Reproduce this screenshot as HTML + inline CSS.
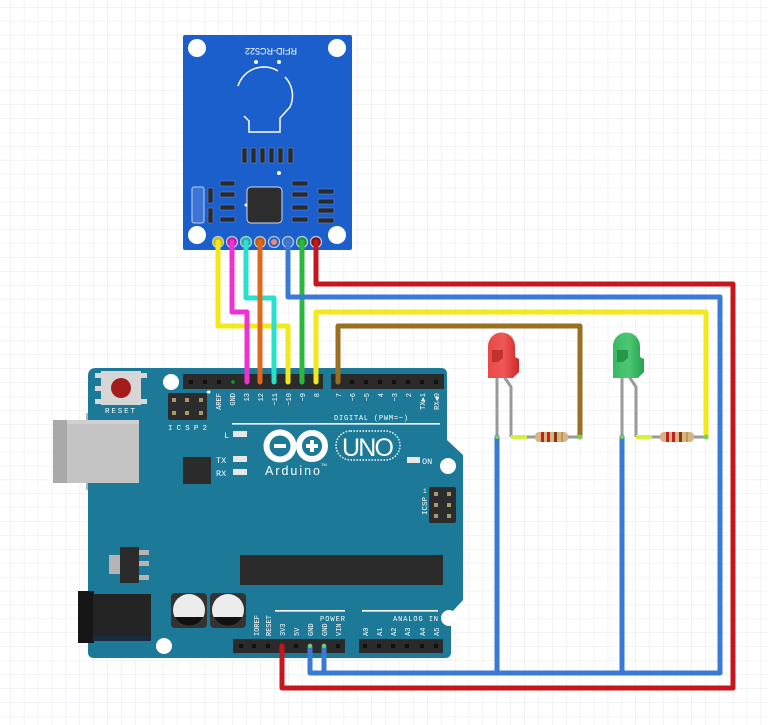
<!DOCTYPE html>
<html><head><meta charset="utf-8"><style>
html,body{margin:0;padding:0;background:#fff;}
svg{display:block;}
.t{font-family:"Liberation Mono",monospace;fill:#fff;}
</style></head><body>
<svg width="768" height="725" viewBox="0 0 768 725" xmlns="http://www.w3.org/2000/svg">
<defs>
<pattern id="grid" x="10" y="7" width="13.9" height="13.9" patternUnits="userSpaceOnUse">
<path d="M0,0 L0,13.9 M0,0 L13.9,0" stroke="#e6e7ee" stroke-width="1" fill="none"/>
</pattern>
<clipPath id="c1"><circle cx="189" cy="610" r="16"/></clipPath>
<clipPath id="c2"><circle cx="228" cy="610" r="16"/></clipPath>
<linearGradient id="ledR" x1="0" x2="1" y1="0" y2="0"><stop offset="0" stop-color="#e84848"/><stop offset="0.5" stop-color="#f05858"/><stop offset="1" stop-color="#d02828"/></linearGradient>
<linearGradient id="ledG" x1="0" x2="1" y1="0" y2="0"><stop offset="0" stop-color="#38b860"/><stop offset="0.5" stop-color="#4cc874"/><stop offset="1" stop-color="#28a050"/></linearGradient>
</defs>
<rect width="768" height="725" fill="#fff"/>
<rect width="768" height="725" fill="url(#grid)"/>

<!-- ============ ARDUINO ============ -->
<!-- USB tab + body -->
<rect x="86" y="413" width="11" height="77" fill="#b4b4b4"/>
<path d="M96,368 L441,368 Q447,368 447,374 L447,440 L463,455 L463,600 L451,613 L451,652 Q451,658 445,658 L94,658 Q88,658 88,652 L88,376 Q88,368 96,368 Z" fill="#1c7a98"/>
<rect x="53" y="420" width="86" height="63" fill="#c4c4c4"/>
<rect x="53" y="420" width="14" height="63" fill="#a9a9a9"/>
<rect x="67" y="420" width="72" height="4" fill="#d0d0d0"/>

<!-- reset button -->
<rect x="95" y="373" width="7" height="5" fill="#d8d8d8"/>
<rect x="95" y="386" width="7" height="5" fill="#d8d8d8"/>
<rect x="95" y="399" width="7" height="5" fill="#d8d8d8"/>
<rect x="140" y="373" width="7" height="5" fill="#d8d8d8"/>
<rect x="140" y="399" width="7" height="5" fill="#d8d8d8"/>
<rect x="101" y="371" width="40" height="34" fill="#d6d6d6"/>
<circle cx="121" cy="388" r="10" fill="#a41c1c"/>
<text class="t" x="105" y="413" font-size="7.5" textLength="30">RESET</text>
<circle cx="171" cy="382" r="8" fill="#fff"/>

<!-- ICSP2 -->
<rect x="168" y="393" width="39" height="27" rx="2" fill="#2c2c2c"/>
<g fill="#a89a70"><rect x="172" y="398" width="4" height="4"/><rect x="185" y="398" width="4" height="4"/><rect x="199" y="398" width="4" height="4"/><rect x="172" y="411" width="4" height="4"/><rect x="185" y="411" width="4" height="4"/><rect x="199" y="411" width="4" height="4"/></g>
<circle cx="209" cy="392" r="1.5" fill="#fff"/>
<text class="t" x="168" y="430" font-size="7.5" textLength="39">ICSP2</text>

<!-- top headers -->
<rect x="183" y="374" width="140" height="15" fill="#2b2b2b"/>
<rect x="331" y="374" width="113" height="15" fill="#2b2b2b"/>
<g fill="#111">
<rect x="189" y="380" width="4" height="4"/><rect x="203" y="380" width="4" height="4"/><rect x="217" y="380" width="4" height="4"/><rect x="231" y="380" width="4" height="4"/><rect x="245" y="380" width="4" height="4"/><rect x="258" y="380" width="4" height="4"/><rect x="272" y="380" width="4" height="4"/><rect x="286" y="380" width="4" height="4"/><rect x="300" y="380" width="4" height="4"/><rect x="314" y="380" width="4" height="4"/>
<rect x="336" y="380" width="4" height="4"/><rect x="350" y="380" width="4" height="4"/><rect x="364" y="380" width="4" height="4"/><rect x="378" y="380" width="4" height="4"/><rect x="392" y="380" width="4" height="4"/><rect x="406" y="380" width="4" height="4"/><rect x="420" y="380" width="4" height="4"/><rect x="434" y="380" width="4" height="4"/>
</g>
<circle cx="233" cy="382" r="2" fill="#1a8a2a"/>
<circle cx="208" cy="392" r="1.3" fill="#fff"/>

<!-- top pin labels -->
<g class="t" font-size="7" text-anchor="end">
<text transform="translate(221,393) rotate(-90)">AREF</text>
<text transform="translate(235,393) rotate(-90)">GND</text>
<text transform="translate(249,393) rotate(-90)">13</text>
<text transform="translate(263,393) rotate(-90)">12</text>
<text transform="translate(277,393) rotate(-90)">~11</text>
<text transform="translate(291,393) rotate(-90)">~10</text>
<text transform="translate(305,393) rotate(-90)">~9</text>
<text transform="translate(319,393) rotate(-90)">8</text>
<text transform="translate(341,393) rotate(-90)">7</text>
<text transform="translate(355,393) rotate(-90)">~6</text>
<text transform="translate(369,393) rotate(-90)">~5</text>
<text transform="translate(383,393) rotate(-90)">4</text>
<text transform="translate(397,393) rotate(-90)">~3</text>
<text transform="translate(411,393) rotate(-90)">2</text>
<text transform="translate(425,393) rotate(-90)">TX▶1</text>
<text transform="translate(439,393) rotate(-90)">RX◀0</text>
</g>
<text class="t" x="334" y="420" font-size="7" textLength="74">DIGITAL (PWM=~)</text>
<rect x="232" y="423" width="208" height="1.6" fill="#fff"/>

<!-- LEDs L TX RX -->
<text class="t" x="224" y="438" font-size="8.5">L</text>
<rect x="233" y="431" width="14" height="6" fill="#e6e6e6"/>
<text class="t" x="216" y="463" font-size="8.5">TX</text>
<rect x="233" y="456" width="14" height="6" fill="#e6e6e6"/>
<text class="t" x="216" y="476" font-size="8.5">RX</text>
<rect x="233" y="469" width="14" height="6" fill="#e6e6e6"/>
<rect x="183" y="457" width="28" height="27" fill="#2b2b2b"/>

<!-- logo -->
<circle cx="280" cy="446" r="13.5" fill="none" stroke="#fff" stroke-width="6"/>
<circle cx="312" cy="446" r="13" fill="none" stroke="#fff" stroke-width="6"/>
<rect x="274" y="444" width="12" height="4" fill="#fff"/>
<rect x="306" y="444" width="12" height="4" fill="#fff"/>
<rect x="310" y="440" width="4" height="12" fill="#fff"/>
<text x="265" y="475" font-family="Liberation Sans, sans-serif" font-size="12.5" fill="#fff" textLength="55">Arduino</text>
<text x="321" y="466" font-family="Liberation Sans, sans-serif" font-size="4" fill="#fff">TM</text>
<rect x="336" y="431" width="64" height="29" rx="14.5" fill="none" stroke="#fff" stroke-width="1.5" stroke-dasharray="1.5,1.5"/>
<text x="342" y="456" font-family="Liberation Sans, sans-serif" font-size="25" fill="#fff" textLength="52">UNO</text>

<rect x="407" y="457" width="13" height="6" fill="#e6e6e6"/>
<text class="t" x="422" y="464" font-size="8.5">ON</text>
<circle cx="448" cy="466" r="8" fill="#fff"/>

<!-- ICSP -->
<rect x="429" y="487" width="27" height="36" rx="2" fill="#2c2c2c"/>
<g fill="#a89a70"><rect x="434" y="492" width="4" height="4"/><rect x="447" y="492" width="4" height="4"/><rect x="434" y="503" width="4" height="4"/><rect x="447" y="503" width="4" height="4"/><rect x="434" y="514" width="4" height="4"/><rect x="447" y="514" width="4" height="4"/></g>
<text class="t" font-size="7.5" text-anchor="middle" transform="translate(427,506) rotate(-90)">ICSP</text>
<text class="t" x="423" y="493" font-size="6">1</text>

<!-- regulator -->
<rect x="109" y="555" width="12" height="19" fill="#b4b4b4"/>
<rect x="139" y="550" width="10" height="5" fill="#b4b4b4"/>
<rect x="139" y="561" width="10" height="5" fill="#b4b4b4"/>
<rect x="139" y="575" width="10" height="5" fill="#b4b4b4"/>
<rect x="120" y="547" width="19" height="36" fill="#2b2b2b"/>

<!-- big chip -->
<rect x="240" y="555" width="203" height="30" fill="#2b2b2b"/>

<!-- power jack -->
<rect x="78" y="591" width="16" height="52" fill="#161616"/>
<rect x="93" y="594" width="58" height="47" fill="#242424"/>
<rect x="93" y="636" width="58" height="5" fill="#1a2a40"/>

<!-- caps -->
<rect x="171" y="593" width="36" height="35" rx="4" fill="#333"/>
<rect x="210" y="593" width="36" height="35" rx="4" fill="#333"/>
<circle cx="189" cy="610" r="16" fill="#ececec"/>
<circle cx="228" cy="610" r="16" fill="#ececec"/>
<rect x="170" y="617" width="40" height="12" fill="#111" clip-path="url(#c1)"/>
<rect x="209" y="617" width="40" height="12" fill="#111" clip-path="url(#c2)"/>
<circle cx="164" cy="646" r="8" fill="#fff"/>

<!-- power/analog -->
<rect x="275" y="610" width="70" height="1.6" fill="#fff"/>
<text class="t" x="320" y="621" font-size="7" textLength="25">POWER</text>
<rect x="362" y="610" width="76" height="1.6" fill="#fff"/>
<text class="t" x="393" y="621" font-size="7" textLength="45">ANALOG IN</text>
<circle cx="449" cy="618" r="8" fill="#fff"/>
<g class="t" font-size="7">
<text transform="translate(259,636) rotate(-90)">IOREF</text>
<text transform="translate(271,636) rotate(-90)">RESET</text>
<text transform="translate(285,636) rotate(-90)">3V3</text>
<text transform="translate(299,636) rotate(-90)">5V</text>
<text transform="translate(313,636) rotate(-90)">GND</text>
<text transform="translate(327,636) rotate(-90)">GND</text>
<text transform="translate(341,636) rotate(-90)">VIN</text>
<text transform="translate(368,636) rotate(-90)">A0</text>
<text transform="translate(382,636) rotate(-90)">A1</text>
<text transform="translate(396,636) rotate(-90)">A2</text>
<text transform="translate(410,636) rotate(-90)">A3</text>
<text transform="translate(425,636) rotate(-90)">A4</text>
<text transform="translate(439,636) rotate(-90)">A5</text>
</g>
<rect x="233" y="639" width="112" height="14" fill="#2b2b2b"/>
<rect x="359" y="639" width="84" height="14" fill="#2b2b2b"/>
<g fill="#111">
<rect x="239" y="644" width="4" height="4"/><rect x="252" y="644" width="4" height="4"/><rect x="266" y="644" width="4" height="4"/><rect x="280" y="644" width="4" height="4"/><rect x="294" y="644" width="4" height="4"/><rect x="308" y="644" width="4" height="4"/><rect x="322" y="644" width="4" height="4"/><rect x="336" y="644" width="4" height="4"/>
<rect x="363" y="644" width="4" height="4"/><rect x="377" y="644" width="4" height="4"/><rect x="391" y="644" width="4" height="4"/><rect x="405" y="644" width="4" height="4"/><rect x="420" y="644" width="4" height="4"/><rect x="434" y="644" width="4" height="4"/>
</g>

<!-- ============ RFID ============ -->
<rect x="183" y="35" width="169" height="215" rx="2" fill="#1b5fcc"/>
<circle cx="197" cy="48" r="9" fill="#fff"/>
<circle cx="337" cy="48" r="9" fill="#fff"/>
<circle cx="197" cy="235" r="9" fill="#fff"/>
<circle cx="337" cy="235" r="9" fill="#fff"/>
<text x="271" y="42" font-family="Liberation Sans, sans-serif" font-size="9" fill="#fff" text-anchor="middle" transform="rotate(180,271,45)">RFID-RC522</text>
<circle cx="256" cy="62" r="2" fill="#fff"/>
<circle cx="279" cy="62" r="2" fill="#fff"/>
<path d="M238,86 A27,27 0 0 1 278,71" fill="none" stroke="#fff" stroke-width="1.5"/>
<path d="M285,77 A27,27 0 0 1 290,107 L280,118 L280,132 L249,132 L249,121 L244,116" fill="none" stroke="#fff" stroke-width="1.5"/>
<g fill="#2a2a2a" stroke="#5a86d8" stroke-width="0.6">
<rect x="242" y="148" width="5" height="15"/><rect x="251" y="148" width="5" height="15"/><rect x="260" y="148" width="5" height="15"/><rect x="269" y="148" width="5" height="15"/><rect x="278" y="148" width="5" height="15"/><rect x="288" y="148" width="5" height="15"/>
<rect x="220" y="181" width="15" height="5"/><rect x="220" y="192" width="15" height="5"/><rect x="220" y="205" width="15" height="5"/><rect x="220" y="217" width="15" height="5"/>
<rect x="208" y="188" width="5" height="15"/><rect x="208" y="208" width="5" height="15"/>
<rect x="292" y="181" width="16" height="5"/><rect x="292" y="192" width="16" height="5"/><rect x="292" y="205" width="16" height="5"/><rect x="292" y="217" width="16" height="5"/>
<rect x="318" y="189" width="16" height="5"/><rect x="318" y="199" width="16" height="5"/><rect x="318" y="208" width="16" height="5"/><rect x="318" y="218" width="16" height="5"/>
</g>
<circle cx="279" cy="173" r="2" fill="#fff"/>
<rect x="192" y="187" width="12" height="36" rx="2" fill="#3d74d6" stroke="#bcd0f0" stroke-width="1"/>
<rect x="247" y="187" width="35" height="36" rx="4" fill="#2e2e2e" stroke="#d0dcf0" stroke-width="1"/>
<circle cx="246" cy="205" r="1.5" fill="#fff"/>
<!-- RFID pins -->
<g stroke="#bcd0f0" stroke-width="1.2">
<circle cx="218" cy="242" r="5.5" fill="#c8c000"/>
<circle cx="232" cy="242" r="5.5" fill="#c020a0"/>
<circle cx="246" cy="242" r="5.5" fill="#20b0a0"/>
<circle cx="260" cy="242" r="5.5" fill="#c05a10"/>
<circle cx="274" cy="242" r="5.5" fill="#1b5fcc"/>
<circle cx="288" cy="242" r="5.5" fill="#3a70b8"/>
<circle cx="302" cy="242" r="5.5" fill="#22922e"/>
<circle cx="316" cy="242" r="5.5" fill="#8a1010"/>
</g>
<circle cx="274" cy="242" r="3" fill="#f08878"/>

<!-- ============ LEDs + resistors ============ -->
<!-- red LED -->
<g stroke="#9a9a9a" stroke-width="3" fill="none">
<path d="M497,375 L497,437"/>
<path d="M503,375 L511,387 L511,437"/>
<path d="M622,375 L622,437"/>
<path d="M628,375 L636,387 L636,437"/>
<path d="M527,437 L536,437 M567,437 L580,437"/>
<path d="M652,437 L661,437 M692,437 L706,437"/>
</g>
<path d="M511,437 L527,437" stroke="#d4f040" stroke-width="4"/>
<path d="M636,437 L652,437" stroke="#d4f040" stroke-width="4"/>
<path d="M488,378 L488,346 A13.5,13.5 0 0 1 515,346 L515,357 L519,359 L519,372 L513,378 Z" fill="url(#ledR)"/>
<path d="M492,350 L503,350 L503,358 L498,362 L492,362 Z" fill="#b82828" opacity="0.8"/>
<path d="M613,378 L613,346 A13.5,13.5 0 0 1 640,346 L640,357 L644,359 L644,372 L638,378 Z" fill="url(#ledG)"/>
<path d="M617,350 L628,350 L628,358 L623,362 L617,362 Z" fill="#208a40" opacity="0.8"/>
<!-- resistors -->
<rect x="535" y="432" width="33" height="10" rx="4" fill="#d8b484"/>
<rect x="541" y="432" width="3" height="10" fill="#c02020"/>
<rect x="547" y="432" width="3" height="10" fill="#c02020"/>
<rect x="554" y="432" width="3" height="10" fill="#7a3c10"/>
<rect x="561" y="432" width="2" height="10" fill="#b89a50"/>
<rect x="660" y="432" width="34" height="10" rx="4" fill="#d8b484"/>
<rect x="666" y="432" width="3" height="10" fill="#c02020"/>
<rect x="672" y="432" width="3" height="10" fill="#c02020"/>
<rect x="679" y="432" width="3" height="10" fill="#7a3c10"/>
<rect x="686" y="432" width="2" height="10" fill="#b89a50"/>

<!-- ============ WIRES ============ -->
<g fill="none" stroke-width="5" stroke-linejoin="round" stroke-linecap="round">
<path d="M218,242 L218,326 L288,326 L288,382" stroke="#f2ea18"/>
<path d="M232,242 L232,312 L247,312 L247,382" stroke="#f030d0"/>
<path d="M246,242 L246,298 L274,298 L274,382" stroke="#28e0cc"/>
<path d="M260,242 L260,382" stroke="#e0681c"/>
<path d="M302,242 L302,382" stroke="#2cb83c"/>
<path d="M316,382 L316,312 L706,312 L706,437" stroke="#f2ea18"/>
<path d="M338,382 L338,326 L580,326 L580,437" stroke="#9a7020"/>
<path d="M288,242 L288,297 L720,297 L720,673 L310,673 L310,646" stroke="#3a7ad4"/>
<path d="M324,646 L324,673" stroke="#3a7ad4"/>
<path d="M497,437 L497,673" stroke="#3a7ad4"/>
<path d="M622,437 L622,673" stroke="#3a7ad4"/>
<path d="M316,242 L316,284 L733,284 L733,688 L282,688 L282,646" stroke="#c4161c"/>
</g>
<g fill="#7ad050">
<circle cx="580" cy="437" r="2.5"/><circle cx="706" cy="437" r="2.5"/><circle cx="497" cy="437" r="2"/><circle cx="622" cy="437" r="2"/>
<circle cx="310" cy="646" r="2"/><circle cx="324" cy="646" r="2"/>
</g>
</svg>
</body></html>
